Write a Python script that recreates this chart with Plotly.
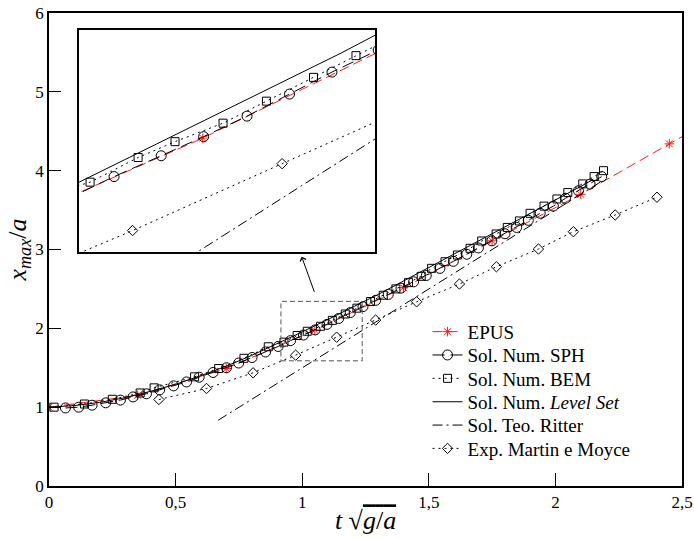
import plotly.graph_objects as go

# ---------------- data ----------------
epus_t = [0.0, 0.35, 0.70, 1.05, 1.40, 1.75, 2.10, 2.45, 2.80]
epus_x = [1.0, 1.15, 1.49, 1.975, 2.515, 3.11, 3.70, 4.34, 4.97]

sph_t = [0.065, 0.117, 0.170, 0.224, 0.282, 0.332, 0.385, 0.437, 0.492, 0.543,
         0.593, 0.648, 0.701, 0.749, 0.802, 0.855, 0.905, 0.954, 1.005, 1.051,
         1.098, 1.144, 1.190, 1.240, 1.290, 1.340, 1.390, 1.440, 1.490, 1.544,
         1.597, 1.650, 1.696, 1.749, 1.801, 1.847, 1.893, 1.940, 1.992, 2.040,
         2.091, 2.137, 2.183]
sph_x = [0.99, 1.00, 1.025, 1.055, 1.09, 1.13, 1.17, 1.22, 1.27, 1.32,
         1.38, 1.44, 1.50, 1.56, 1.63, 1.70, 1.77, 1.844, 1.915, 1.98,
         2.05, 2.125, 2.20, 2.275, 2.355, 2.43, 2.51, 2.59, 2.67, 2.76,
         2.85, 2.94, 3.02, 3.11, 3.20, 3.28, 3.37, 3.46, 3.55, 3.65,
         3.745, 3.83, 3.925]

bem_t = [0.02, 0.14, 0.25, 0.36, 0.415, 0.575, 0.67, 0.77, 0.866, 0.928,
         0.980, 1.020, 1.072, 1.119, 1.170, 1.216, 1.27, 1.32, 1.37, 1.42,
         1.47, 1.511, 1.564, 1.613, 1.663, 1.709, 1.766, 1.81, 1.858, 1.900,
         1.955, 2.006, 2.049, 2.108, 2.153, 2.190]
bem_x = [1.00, 1.04, 1.10, 1.18, 1.245, 1.385, 1.49, 1.62, 1.766, 1.825,
         1.909, 1.963, 2.026, 2.101, 2.182, 2.256, 2.34, 2.42, 2.50, 2.58,
         2.66, 2.761, 2.845, 2.93, 3.015, 3.108, 3.197, 3.28, 3.362, 3.459,
         3.55, 3.641, 3.722, 3.832, 3.925, 4.00]

ls_t = [0.0, 0.1, 0.2, 0.3, 0.4, 0.5, 0.6, 0.7, 0.8, 0.9, 1.0, 1.1, 1.2,
        1.3, 1.4, 1.5, 1.6, 1.7, 1.8, 1.9, 2.0, 2.1, 2.15]
ls_x = [1.0, 1.02, 1.06, 1.12, 1.20, 1.29, 1.40, 1.52, 1.655, 1.80, 1.955,
        2.11, 2.265, 2.43, 2.60, 2.77, 2.94, 3.11, 3.28, 3.45, 3.625, 3.80, 3.89]

ritter_t = [0.668, 2.18]
ritter_x = [0.834, 3.86]

mm_t = [0.434, 0.622, 0.806, 0.974, 1.136, 1.290, 1.452, 1.621, 1.767,
        1.933, 2.071, 2.236, 2.401]
mm_x = [1.097, 1.237, 1.436, 1.66, 1.888, 2.105, 2.337, 2.562, 2.782,
        3.006, 3.226, 3.438, 3.663]

x_ticks = [0, 0.5, 1, 1.5, 2, 2.5]
y_ticks = [0, 1, 2, 3, 4, 5, 6]

zoom_t = [0.916, 1.237]
zoom_x = [1.588, 2.342]

FONT = "Liberation Serif, Times New Roman, DejaVu Serif, serif"

series = [
    dict(name="EPUS", t=epus_t, x=epus_x, color="#ff1a1a", dash="10px,5px",
         symbol="asterisk-open", size=8, mode="lines+markers"),
    dict(name="Sol. Num. SPH", t=sph_t, x=sph_x, color="black", dash="12px,6px",
         symbol="circle-open", size=10, mode="lines+markers"),
    dict(name="Sol. Num. BEM", t=bem_t, x=bem_x, color="black", dash="2px,4px",
         symbol="square-open", size=8, mode="lines+markers"),
    dict(name="Sol. Num. <i>Level Set</i>", t=ls_t, x=ls_x, color="black", dash="solid",
         symbol="circle", size=1, mode="lines"),
    dict(name="Sol. Teo. Ritter", t=ritter_t, x=ritter_x, color="black",
         dash="10px,4px,2px,4px", symbol="circle", size=1, mode="lines"),
    dict(name="Exp. Martin e Moyce", t=mm_t, x=mm_x, color="black", dash="2px,4px",
         symbol="diamond-open", size=8, mode="lines+markers"),
]

legend_ids = ["legend", "legend2", "legend3", "legend4", "legend5", "legend6"]
legend_y = [0.326, 0.2767, 0.2273, 0.1778, 0.1285, 0.0792]

fig = go.Figure()
for s, lid in zip(series, legend_ids):
    fig.add_trace(go.Scatter(
        x=s["t"], y=s["x"], name=s["name"], mode=s["mode"], legend=lid,
        line=dict(color=s["color"], dash=s["dash"], width=1),
        marker=dict(symbol=s["symbol"], size=s["size"], color=s["color"],
                    line=dict(width=1, color=s["color"])),
        xaxis="x", yaxis="y"))
for s in series:
    fig.add_trace(go.Scatter(
        x=s["t"], y=s["x"], name=s["name"], mode=s["mode"], showlegend=False,
        line=dict(color=s["color"], dash=s["dash"], width=1),
        marker=dict(symbol=s["symbol"], size=s["size"], color=s["color"],
                    line=dict(width=1, color=s["color"])),
        xaxis="x2", yaxis="y2"))

fig.add_shape(type="rect", xref="x", yref="y",
              x0=zoom_t[0], x1=zoom_t[1], y0=zoom_x[0], y1=zoom_x[1],
              line=dict(color="#555555", width=1, dash="5px,3px"))

fig.add_annotation(xref="x", yref="y", axref="x", ayref="y",
                   x=0.998, y=2.909, ax=1.050, ay=2.444, text="",
                   showarrow=True, arrowhead=4, arrowsize=1.2, arrowwidth=1,
                   arrowcolor="black")

legends = {}
for lid, ly in zip(legend_ids, legend_y):
    legends[lid] = dict(x=0.598, y=ly, xanchor="left", yanchor="middle",
                        bgcolor="rgba(0,0,0,0)", borderwidth=0,
                        font=dict(family=FONT, size=19))

fig.update_layout(
    width=694, height=538,
    margin=dict(l=49, r=12, t=13, b=52, autoexpand=False),
    paper_bgcolor="white", plot_bgcolor="white",
    separators=",.",
    font=dict(family=FONT, size=16, color="black"),
    xaxis=dict(range=[0, 2.5], tickvals=x_ticks, ticks="inside", ticklen=13,
               tickwidth=1, tickcolor="black", showline=True, mirror=True,
               linecolor="black", linewidth=1.5, showgrid=False, zeroline=False,
               automargin=False,
               tickfont=dict(family=FONT, size=17),
               title=dict(text="<i>t</i> \u221a<span style='text-decoration:overline'><i>g</i>/<i>a</i></span>",
                          font=dict(family=FONT, size=26), standoff=0)),
    yaxis=dict(range=[0, 6], tickvals=y_ticks, ticks="inside", ticklen=12,
               tickwidth=1, tickcolor="black", showline=True, mirror=True,
               linecolor="black", linewidth=1.5, showgrid=False, zeroline=False,
               automargin=False,
               tickfont=dict(family=FONT, size=17),
               title=dict(text="<i>x</i><sub><i>max</i></sub>/<i>a</i>",
                          font=dict(family=FONT, size=26), standoff=1)),
    xaxis2=dict(domain=[0.0474, 0.5156], anchor="y2", range=zoom_t,
                showticklabels=False, ticks="", showline=True, mirror=True,
                linecolor="black", linewidth=1.5, showgrid=False, zeroline=False),
    yaxis2=dict(domain=[0.4953, 0.9632], anchor="x2", range=zoom_x,
                showticklabels=False, ticks="", showline=True, mirror=True,
                linecolor="black", linewidth=1.5, showgrid=False, zeroline=False),
    showlegend=True,
    **legends,
)

fig.write_html("out.html", config={"displayModeBar": False},
               post_script="document.body.style.margin='0';document.body.style.overflow='hidden';")
